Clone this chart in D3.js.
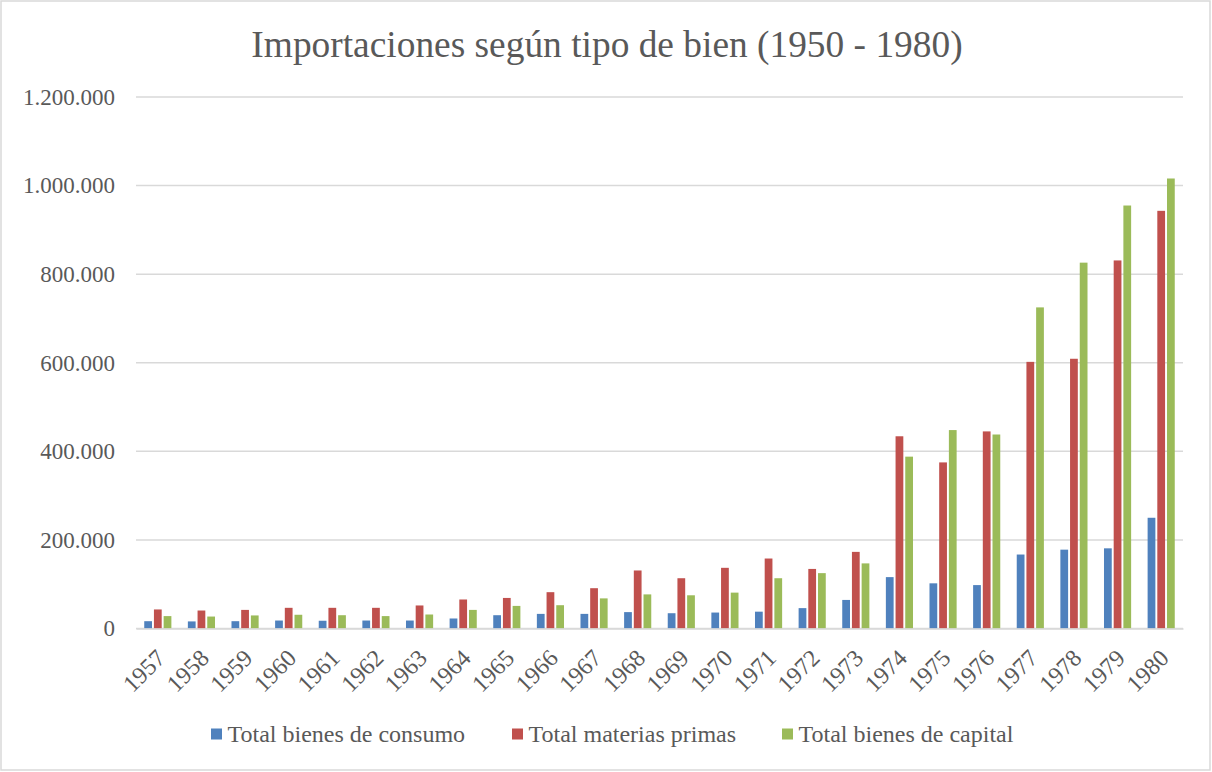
<!DOCTYPE html>
<html>
<head>
<meta charset="utf-8">
<script src="https://cdn.jsdelivr.net/npm/d3@7"></script>
<style>
  html, body { margin: 0; padding: 0; background: #fff; }
  svg text { font-family: "Liberation Serif", "Times New Roman", serif; fill: #595959; }
</style>
</head>
<body>
<svg class="chart" width="1212" height="772"></svg>
<script>
const years = ["1957", "1958", "1959", "1960", "1961", "1962", "1963", "1964", "1965", "1966", "1967", "1968",
  "1969", "1970", "1971", "1972", "1973", "1974", "1975", "1976", "1977", "1978", "1979", "1980"];
const consumo = [16500, 16000, 16500, 18000, 17500, 18000, 18000, 22600, 30000, 33000, 33000, 37000,
  34500, 36000, 38000, 46000, 64500, 116000, 102000, 98000, 167000, 178000, 181000, 250000];
const materias = [43000, 40600, 42000, 46700, 46700, 46700, 52000, 65500, 69000, 82000, 91000, 131000,
  113500, 137000, 158000, 134500, 173000, 434000, 375000, 445000, 602000, 609000, 831000, 943000];
const capital = [28000, 27000, 29500, 31000, 30000, 28000, 31600, 42000, 51000, 52600, 68000, 77000,
  75000, 81000, 113500, 125000, 147000, 388000, 448000, 438000, 725000, 826000, 955000, 1016000];
const seriesNames = ["Total bienes de consumo", "Total materias primas", "Total bienes de capital"];
const yTicks = [0, 200000, 400000, 600000, 800000, 1000000, 1200000];

const colors = ["#4F81BD", "#C0504D", "#9BBB59"];
const seriesValues = [consumo, materias, capital];

const margin = { top: 97, right: 29, bottom: 143.5, left: 136 };
const W = 1212, H = 772;

const svg = d3.select(".chart");

// outer chart border
svg.append("rect")
  .attr("x", 1).attr("y", 1)
  .attr("width", W - 3).attr("height", H - 3)
  .attr("fill", "#fff")
  .attr("stroke", "#D9D9D9")
  .attr("stroke-width", 1.5);

const x0 = d3.scaleBand()
  .domain(years)
  .range([margin.left, W - margin.right]);

const x1 = d3.scaleBand()
  .domain(d3.range(seriesNames.length))
  .range([0, x0.bandwidth()])
  .paddingInner(0.2)
  .paddingOuter(0.85);

const y = d3.scaleLinear()
  .domain([0, 1200000])
  .range([H - margin.bottom, margin.top]);

const fmt = d3.formatLocale({ decimal: ",", thousands: ".", grouping: [3], currency: ["", ""] }).format(",");

// gridlines
svg.append("g")
  .selectAll("line")
  .data(yTicks)
  .join("line")
  .attr("x1", margin.left)
  .attr("x2", W - margin.right)
  .attr("y1", (d) => y(d))
  .attr("y2", (d) => y(d))
  .attr("stroke", "#D9D9D9")
  .attr("stroke-width", 1.5);

// y axis labels
const yAxis = svg.append("g")
  .attr("transform", `translate(${margin.left},0)`)
  .call(d3.axisLeft(y).tickValues(yTicks).tickFormat(fmt).tickSize(0).tickPadding(21));
yAxis.select(".domain").remove();
yAxis.selectAll("text")
  .attr("font-size", 23)
  .attr("font-family", null)
  .attr("fill", "#595959");

// bars
const groups = svg.append("g")
  .selectAll("g")
  .data(years)
  .join("g")
  .attr("transform", (d) => `translate(${x0(d)},0)`);

groups.selectAll("rect")
  .data((d, i) => seriesValues.map((vals, k) => ({ k, v: vals[i] })))
  .join("rect")
  .attr("x", (d) => x1(d.k))
  .attr("width", x1.bandwidth())
  .attr("y", (d) => y(d.v))
  .attr("height", (d) => y(0) - y(d.v))
  .attr("fill", (d) => colors[d.k]);

// x axis
const xAxis = svg.append("g")
  .attr("transform", `translate(0,${y(0)})`)
  .call(d3.axisBottom(x0).tickSize(0).tickPadding(0));
xAxis.select(".domain")
  .attr("stroke", "#D9D9D9")
  .attr("stroke-width", 1.5);
xAxis.selectAll("text")
  .attr("font-size", 24)
  .attr("font-family", null)
  .attr("fill", "#595959")
  .attr("text-anchor", "end")
  .attr("dy", null)
  .attr("transform", "translate(9,31) rotate(-45)");

// title
svg.append("text")
  .attr("x", 607)
  .attr("y", 57)
  .attr("text-anchor", "middle")
  .attr("font-size", 37.4)
  .text("Importaciones según tipo de bien (1950 - 1980)");

// legend
const legendX = [211, 512, 782];
const legend = svg.append("g")
  .selectAll("g")
  .data(seriesNames)
  .join("g")
  .attr("transform", (d, i) => `translate(${legendX[i]},735)`);
legend.append("rect")
  .attr("x", 0).attr("y", -6.5)
  .attr("width", 11).attr("height", 11)
  .attr("fill", (d, i) => colors[i]);
legend.append("text")
  .attr("x", 16.5)
  .attr("y", 7)
  .attr("font-size", 24)
  .text((d) => d);
</script>
</body>
</html>
